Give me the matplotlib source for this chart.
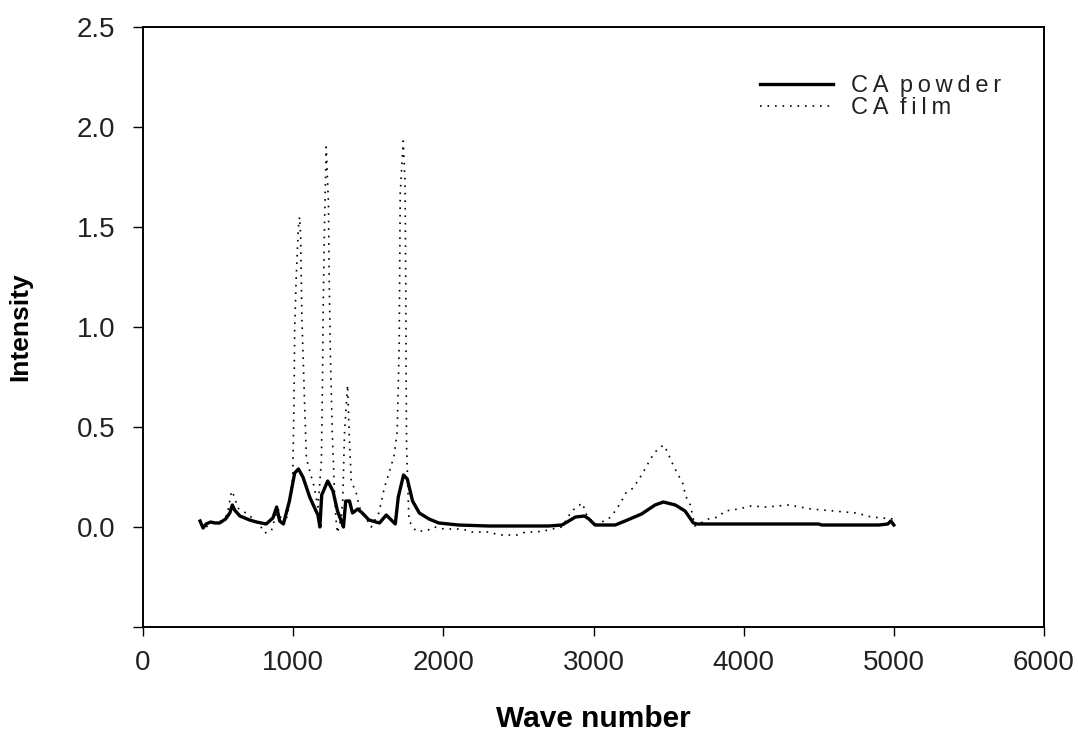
import matplotlib
matplotlib.use("Agg")
import matplotlib.pyplot as plt
from matplotlib.ticker import FixedLocator, FixedFormatter

# CA powder (solid) spectrum
powder_x = [380, 400, 420, 450, 480, 510, 550, 578, 595, 610, 645, 710, 755, 820, 865, 890,
            910, 935, 975, 1010, 1035, 1065, 1110, 1140, 1165, 1178, 1190, 1230, 1265, 1295,
            1320, 1335, 1350, 1375, 1395, 1430, 1460, 1505, 1575, 1620, 1660, 1680, 1700, 1735,
            1760, 1795, 1840, 1905, 1970, 2100, 2300, 2500, 2700, 2790, 2835, 2880, 2940, 2970,
            3010, 3145, 3210, 3320, 3410, 3465, 3545, 3610, 3665, 3690, 4000, 4500, 4520, 4900,
            4960, 4980, 5000]
powder_y = [0.03, -0.005, 0.015, 0.025, 0.02, 0.02, 0.04, 0.07, 0.11, 0.085, 0.055, 0.035,
            0.025, 0.015, 0.045, 0.1, 0.03, 0.015, 0.13, 0.27, 0.29, 0.25, 0.15, 0.1, 0.06, 0.0,
            0.16, 0.23, 0.18, 0.08, 0.03, 0.0, 0.13, 0.13, 0.07, 0.09, 0.07, 0.035, 0.02, 0.06,
            0.03, 0.015, 0.15, 0.26, 0.24, 0.13, 0.07, 0.04, 0.02, 0.01, 0.005, 0.005, 0.005,
            0.01, 0.03, 0.05, 0.055, 0.04, 0.01, 0.01, 0.03, 0.065, 0.11, 0.125, 0.11, 0.08,
            0.02, 0.015, 0.015, 0.015, 0.01, 0.01, 0.015, 0.03, 0.01]

# CA film (dotted) spectrum
film_x = [380, 420, 460, 520, 560, 590, 610, 630, 675, 720, 770, 810, 855, 880, 900, 920, 960,
          997, 1005, 1010, 1020, 1035, 1043, 1050, 1058, 1075, 1088, 1110, 1140, 1165, 1188,
          1195, 1200, 1208, 1220, 1235, 1240, 1248, 1260, 1275, 1285, 1295, 1320, 1330, 1342,
          1362, 1375, 1387, 1420, 1440, 1480, 1520, 1570, 1607, 1650, 1673, 1693, 1706, 1713,
          1733, 1745, 1750, 1752, 1755, 1768, 1772, 1817, 1885, 1940, 2005, 2125, 2190, 2305,
          2370, 2490, 2550, 2615, 2670, 2725, 2790, 2855, 2925, 2955, 3010, 3100, 3145, 3180,
          3215, 3265, 3320, 3380, 3410, 3465, 3490, 3530, 3575, 3600, 3610, 3645, 3675, 3765,
          3830, 3875, 3965, 4050, 4150, 4300, 4450, 4600, 4750, 4850, 5000]
film_y = [0.02, 0.0, 0.02, 0.03, 0.06, 0.18, 0.15, 0.095, 0.075, 0.05, 0.02, -0.03, -0.02,
          0.05, 0.09, 0.04, 0.05, 0.25, 0.6, 0.98, 1.245, 1.5, 1.55, 1.45, 1.045, 0.645, 0.345,
          0.28, 0.2, 0.1, 0.33, 0.71, 1.095, 1.48, 1.9, 1.62, 1.235, 0.86, 0.48, 0.18, 0.04,
          -0.03, 0.05, 0.13, 0.47, 0.71, 0.43, 0.23, 0.17, 0.1, 0.05, 0.0, 0.07, 0.195, 0.3,
          0.36, 0.48, 0.91, 1.67, 1.93, 1.72, 1.21, 0.79, 0.41, 0.095, 0.03, -0.02, -0.02, 0.0,
          -0.01, -0.01, -0.025, -0.025, -0.04, -0.04, -0.025, -0.025, -0.02, -0.01, 0.0, 0.08,
          0.12, 0.06, 0.01, 0.04, 0.08, 0.12, 0.17, 0.195, 0.26, 0.34, 0.375, 0.41, 0.38, 0.31,
          0.245, 0.21, 0.16, 0.11, 0.005, 0.04, 0.05, 0.08, 0.09, 0.105, 0.1, 0.11, 0.09, 0.08,
          0.07, 0.05, 0.04]

y_ticks = [-0.5, 0.0, 0.5, 1.0, 1.5, 2.0, 2.5]
y_labels = ["", "0.0", "0.5", "1.0", "1.5", "2.0", "2.5"]
x_ticks = [0, 1000, 2000, 3000, 4000, 5000, 6000]

plt.rcParams["font.family"] = ["Liberation Sans", "DejaVu Sans"]
INK = "#222222"
# letter-spaced legend text, like the original
spaced = lambda s: "\u2009 ".join("\u2009".join(w) for w in s.split())

fig = plt.figure(figsize=(10.78, 7.33), dpi=100)
ax = fig.add_axes([143 / 1078, 1 - 627 / 733, 901 / 1078, 600 / 733])

ax.plot(powder_x, powder_y, color="black", lw=2.4, label=spaced("CA powder"))
ax.plot(film_x, film_y, color="black", lw=1.2, linestyle=(0, (1, 3.5)), label=spaced("CA film"))

ax.set_xlim(0, 6000)
ax.set_ylim(-0.5, 2.5)
ax.xaxis.set_major_locator(FixedLocator(x_ticks))
ax.yaxis.set_major_locator(FixedLocator(y_ticks))
ax.yaxis.set_major_formatter(FixedFormatter(y_labels))
ax.tick_params(direction="out", width=1, labelsize=20, top=False, right=False)
ax.tick_params(axis="x", length=6.5, pad=10)
ax.tick_params(axis="y", length=7, pad=13)
ax.tick_params(colors="black", labelcolor=INK)
for sp in ax.spines.values():
    sp.set_linewidth(1.4)

ax.set_xlabel("Wave number", fontsize=21.5, fontweight="bold")
ax.xaxis.set_label_coords(0.5, -0.13)
ax.set_ylabel("Intensity", fontsize=19, fontweight="bold")
ax.yaxis.set_label_coords(-0.123, 0.5)

leg = ax.legend(loc="upper left", bbox_to_anchor=(0.685, 0.92), frameon=False, fontsize=17,
                handlelength=3.1, handletextpad=0.75, labelspacing=0.0, borderaxespad=0,
                borderpad=0)
for t in leg.get_texts():
    t.set_color(INK)

fig.savefig("out.png", dpi=100)
